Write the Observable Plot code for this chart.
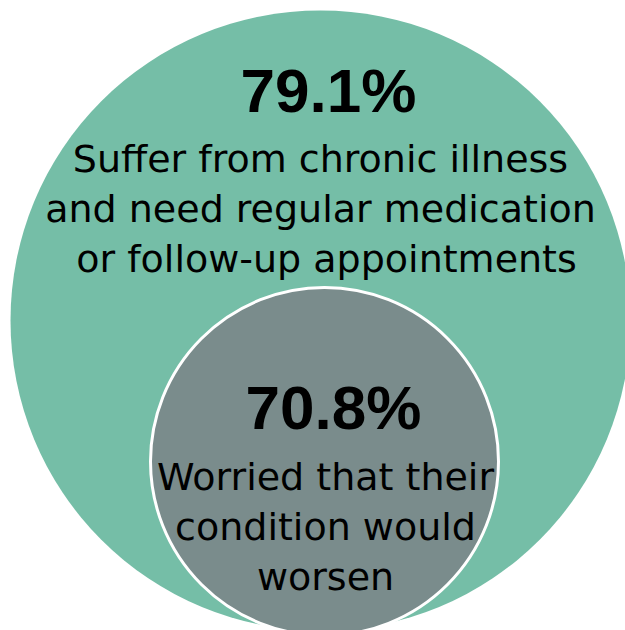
<!DOCTYPE html>
<html><head><meta charset="utf-8">
<script src="https://cdn.jsdelivr.net/npm/d3@7"></script>
<script src="https://cdn.jsdelivr.net/npm/@observablehq/plot@0.6"></script>
<style>body{margin:0;background:#fff}</style>
</head><body><div id="chart"></div>
<script>
// ---- data ----
const groups = ["chronic", "worried"];
const percents = [79.1, 70.8];
const descriptions = [
  "Suffer from chronic illness\nand need regular medication\n\u00a0or follow-up appointments",
  "Worried that their\ncondition would\nworsen"
];

// ---- layout (pixel frame coordinates) ----
const W = 625, H = 630;
const circles = [
  {cx: 320, cy: 320, r: 310, fill: "#75bea7"},
  {cx: 324, cy: 461, r: 174, fill: "#7a8c8c"}
];
const pctPos = [{x: 328, y: 67}, {x: 333, y: 384}];
const descPos = [{x: 320, y: 136}, {x: 325, y: 454}];

const rows = groups.map((g, i) => ({
  group: g,
  pct: percents[i].toFixed(1) + "%",
  desc: descriptions[i],
  ...circles[i],
  px: pctPos[i].x, py: pctPos[i].y,
  dx0: descPos[i].x, dy0: descPos[i].y
}));

const chart = Plot.plot({
  width: W, height: H, margin: 0,
  x: {domain: [0, W], range: [0, W], axis: null},
  y: {domain: [0, H], range: [0, H], axis: null},
  marks: [
    Plot.dot([rows[0]], {x: "cx", y: "cy", r: rows[0].r, fill: rows[0].fill, stroke: "none"}),
    Plot.dot([rows[1]], {x: "cx", y: "cy", r: rows[1].r, fill: rows[1].fill, stroke: "#ffffff", strokeWidth: 3}),
    Plot.text(rows, {x: "px", y: "py", text: "pct", lineAnchor: "top", textAnchor: "middle",
      fontFamily: "Liberation Sans", fontWeight: "bold", fontSize: 62, fill: "#000"}),
    Plot.text(rows, {x: "dx0", y: "dy0", text: "desc", lineAnchor: "top", textAnchor: "middle",
      fontFamily: "DejaVu Sans", fontSize: 38, lineHeight: 1.316, fill: "#000"})
  ]
});
document.getElementById("chart").appendChild(chart);
</script>
</body></html>
